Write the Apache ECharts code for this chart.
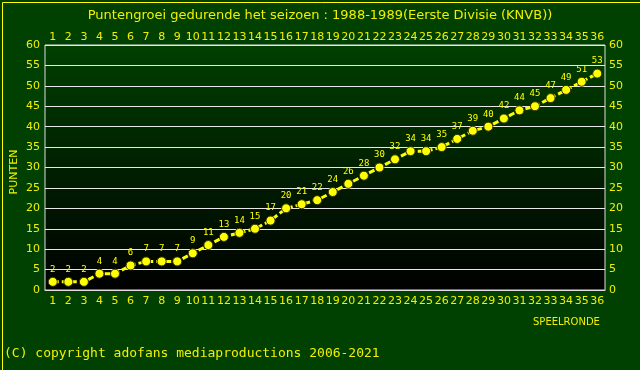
<!DOCTYPE html>
<html>
<head>
<meta charset="utf-8">
<script src="https://cdn.jsdelivr.net/npm/echarts@6/dist/echarts.min.js"></script>
<style>
html,body{margin:0;padding:0;background:#004000;}
#c{width:640px;height:370px;}
</style>
</head>
<body>
<div id="c"></div>
<script>
var rounds = ['1','2','3','4','5','6','7','8','9','10','11','12','13','14','15','16','17','18','19','20','21','22','23','24','25','26','27','28','29','30','31','32','33','34','35','36'];
var points = [2,2,2,4,4,6,7,7,7,9,11,13,14,15,17,20,21,22,24,26,28,30,32,34,34,35,37,39,40,42,44,45,47,49,51,53];
var yTicks = {min:0, max:60, interval:5};
var titleText = 'Puntengroei gedurende het seizoen : 1988-1989(Eerste Divisie (KNVB))';
var yName = 'PUNTEN';
var xName = 'SPEELRONDE';
var copyright = '(C) copyright adofans mediaproductions 2006-2021';

var YEL = '#f0f000';
var chart = echarts.init(document.getElementById('c'), null, {renderer:'canvas'});
var axisLbl = {color: YEL, fontFamily: 'DejaVu Sans', fontSize: 11};
chart.setOption({
  backgroundColor: '#004000',
  animation: false,
  title: {
    text: titleText, left: 'center', top: 4,
    textStyle: {color: YEL, fontFamily: 'DejaVu Sans', fontSize: 13, fontWeight: 'normal'}
  },
  graphic: [
    {type:'rect', left:0, top:0, shape:{width:639, height:369}, style:{fill:'none', stroke:'#ffff00', lineWidth:1}, silent:true, z:100},
    {type:'text', left:4, top:347, style:{text:copyright, fill:YEL, font:'13px "DejaVu Sans Mono"'}},
    {type:'text', left:533, top:317, style:{text:xName, fill:YEL, font:'10px "DejaVu Sans"'}},
    {type:'text', x:14, y:172, rotation:Math.PI/2, style:{text:yName, fill:YEL, font:'11px "DejaVu Sans"', align:'center', verticalAlign:'middle'}}
  ],
  grid: {
    left: 45, right: 35, top: 45, bottom: 80, show: true,
    borderColor: '#dddddd', borderWidth: 1,
    backgroundColor: new echarts.graphic.LinearGradient(0,0,0,1,[{offset:0,color:'#004000'},{offset:1,color:'#000000'}])
  },
  xAxis: [
    {type:'category', data: rounds, position:'bottom', boundaryGap:true,
     axisLine:{show:true, lineStyle:{color:'#dddddd'}}, axisTick:{show:false},
     axisLabel: Object.assign({margin:6, interval:0}, axisLbl)},
    {type:'category', data: rounds, position:'top', boundaryGap:true,
     axisLine:{show:false}, axisTick:{show:false},
     axisLabel: Object.assign({margin:2, interval:0}, axisLbl)}
  ],
  yAxis: [
    {type:'value', min:yTicks.min, max:yTicks.max, interval:yTicks.interval, position:'left',
     axisLine:{show:false}, axisTick:{show:false},
     splitLine:{show:true, lineStyle:{color:'#e8e8e8', width:1}},
     axisLabel: Object.assign({margin:5}, axisLbl)},
    {type:'value', min:yTicks.min, max:yTicks.max, interval:yTicks.interval, position:'right',
     axisLine:{show:false}, axisTick:{show:false}, splitLine:{show:false},
     axisLabel: Object.assign({margin:4}, axisLbl)}
  ],
  series: [{
    type:'line', data: points, xAxisIndex:0, yAxisIndex:0,
    symbol:'circle', symbolSize:9,
    lineStyle:{color:'#ffff00', width:3, type:[6,3]},
    itemStyle:{color:'#ffff00', borderColor:'#333300', borderWidth:1},
    label:{show:true, position:'top', distance:3, color:'#ffff00', fontFamily:'DejaVu Sans Mono', fontSize:9}
  }]
});
</script>
</body>
</html>
